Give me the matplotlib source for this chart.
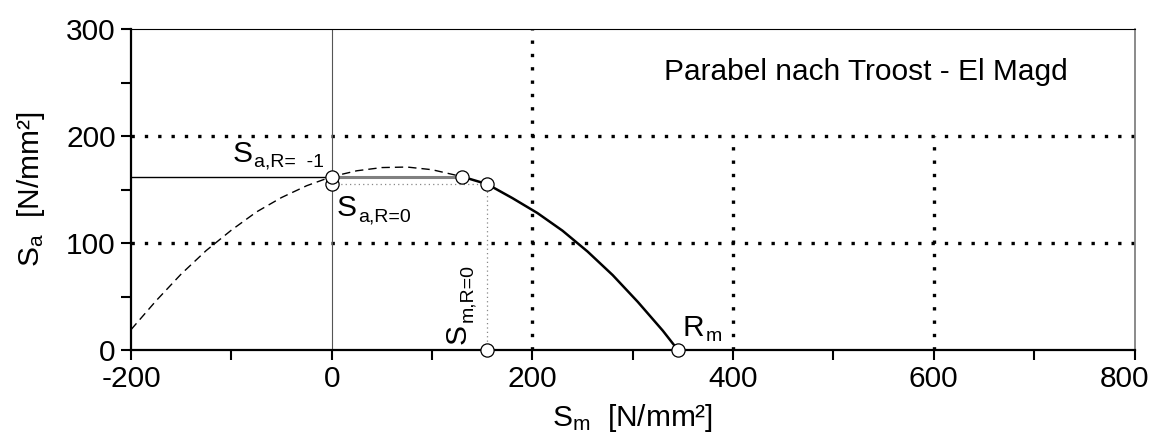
import matplotlib
matplotlib.use('Agg')
import matplotlib.pyplot as plt
from matplotlib.transforms import ScaledTranslation

plt.rcParams['font.family'] = ['Liberation Sans', 'DejaVu Sans']
plt.rcParams['mathtext.fontset'] = 'custom'
plt.rcParams['mathtext.rm'] = 'Liberation Sans'
plt.rcParams['mathtext.it'] = 'Liberation Sans'

# Parabel nach Troost - El Magd
dashed_sm = [-200, -175, -150, -125, -100, -75, -50, -25, 0, 25, 50, 75, 100, 130]
dashed_sa = [19, 46, 71, 93, 112, 129, 142.5, 153.5, 162, 167.5, 170.5, 171, 168.5, 162]
solid_sm = [130, 155, 180, 205, 230, 255, 280, 305, 330, 345]
solid_sa = [162, 155, 142, 128, 111.5, 92, 70, 45, 18, 0]

# characteristic points
sa_r_minus1 = 162
sa_r0 = 155
sm_r0 = 155
sm_knee = 130
rm = 345

fs = 21.5
fs_sub = 14


def label_with_sub(ax, x, y, main, sub, rotation=0):
    # main letter plus a lowered, smaller subscript
    if rotation:
        t = ax.text(x, y, main, fontsize=fs, rotation=90, rotation_mode='anchor',
                    ha='left', va='baseline')
        ax.annotate(sub, xy=(1, 1), xycoords=t, xytext=(0.5, 1), textcoords='offset points',
                    fontsize=fs_sub, rotation=90, rotation_mode='anchor',
                    ha='left', va='baseline')
    else:
        t = ax.text(x, y, main, fontsize=fs, ha='left', va='baseline')
        ax.annotate(sub, xy=(1, 0), xycoords=t, xytext=(1, 0.5), textcoords='offset points',
                    fontsize=fs_sub, ha='left', va='baseline')


fig = plt.figure(figsize=(11.52, 4.46), dpi=100)
ax = fig.add_axes([131 / 1152, 1 - 350 / 446, 1003.5 / 1152, 321 / 446])
ax.set_xlim(-200, 800)
ax.set_ylim(0, 300)

# dotted grid
dot = dict(color='black', lw=2.4, linestyle=(0, (1, 3.0)), dash_capstyle='butt', zorder=1)
ax.plot([-200, 800], [100, 100], **dot)
ax.plot([-200, 800], [200, 200], **dot)
ax.plot([200, 200], [0, 300], **dot)
ax.plot([400, 400], [0, 200], **dot)
ax.plot([600, 600], [0, 200], **dot)

# vertical line at Sm = 0
ax.plot([0, 0], [0, 300], color='#555555', lw=0.8, zorder=2)

# curves
ax.plot(dashed_sm, dashed_sa, color='black', lw=1.0, linestyle=(0, (6, 3.6)), zorder=3)
ax.plot(solid_sm, solid_sa, color='black', lw=1.8, zorder=3)

# helper lines
ax.plot([-200, 0], [sa_r_minus1, sa_r_minus1], color='black', lw=1.0, zorder=3)
ax.plot([0, sm_knee], [sa_r_minus1, sa_r_minus1], color='#808080', lw=2.2, zorder=3)
ax.plot([0, sm_r0], [sa_r0, sa_r0], color='#888888', lw=0.9, linestyle=(0, (1, 2.5)), zorder=3)
ax.plot([sm_r0, sm_r0], [0, sa_r0], color='#888888', lw=0.9, linestyle=(0, (1, 2.5)), zorder=3)

# points
pts_x = [0, 0, sm_knee, sm_r0, sm_r0, rm]
pts_y = [sa_r0, sa_r_minus1, sa_r_minus1, sa_r0, 0, 0]
ax.plot(pts_x, pts_y, 'o', ms=9.5, mfc='white', mec='black', mew=0.9, zorder=5, clip_on=False)

label_with_sub(ax, -99, 176, 'S', 'a,R=  -1')
label_with_sub(ax, 5, 125, 'S', 'a,R=0')
label_with_sub(ax, 133, 6, 'S', 'm,R=0', rotation=90)
label_with_sub(ax, 350, 13, 'R', 'm')
ax.text(331, 252, 'Parabel nach Troost - El Magd', fontsize=fs, ha='left', va='baseline')

# ticks
xt = list(range(-200, 801, 100))
yt = list(range(0, 301, 50))
ax.set_xticks(xt)
ax.set_xticklabels([str(v) if v % 200 == 0 else '' for v in xt])
ax.set_yticks(yt)
ax.set_yticklabels([str(v) if v % 100 == 0 else '' for v in yt])
ax.tick_params(direction='out', length=7, width=1.5, labelsize=fs, pad=4)
# last label sits a little inside the figure
last = ax.get_xticklabels()[-1]
last.set_transform(last.get_transform() + ScaledTranslation(-10 / 100, 0, fig.dpi_scale_trans))

for s in ['left', 'bottom']:
    ax.spines[s].set_linewidth(1.6)
ax.spines['top'].set_linewidth(0.8)
ax.spines['right'].set_linewidth(1.2)
ax.spines['right'].set_color('#777777')

ax.set_xlabel(r'$\mathregular{S_m}$  [N/mm²]', fontsize=fs, labelpad=6)
ax.set_ylabel(r'$\mathregular{S_a}$  [N/mm²]', fontsize=fs, labelpad=14)

fig.savefig('out.png', dpi=100)
